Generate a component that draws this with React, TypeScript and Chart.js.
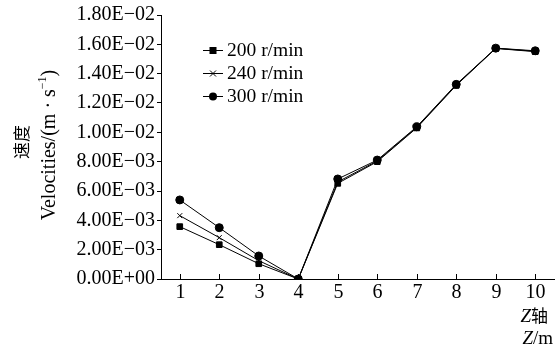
import React, { useEffect, useRef } from "react";
import { Chart, registerables } from "chart.js";

Chart.register(...registerables);

const categories = [1, 2, 3, 4, 5, 6, 7, 8, 9, 10];
const series200 = [0.00357, 0.00234, 0.00104, 0.0, 0.00652, 0.00800, 0.01030, 0.01320, 0.01572, 0.01550];
const series240 = [0.00432, 0.00282, 0.00125, 0.0, 0.00662, 0.00805, 0.01034, 0.01323, 0.01573, 0.01553];
const series300 = [0.00539, 0.00350, 0.00157, 0.0, 0.00682, 0.00811, 0.01038, 0.01327, 0.01574, 0.01556];
const seriesNames = ["200 r/min", "240 r/min", "300 r/min"];
const yTickLabels = [
  "0.00E+00", "2.00E\u221203", "4.00E\u221203", "6.00E\u221203", "8.00E\u221203",
  "1.00E\u221202", "1.20E\u221202", "1.40E\u221202", "1.60E\u221202", "1.80E\u221202",
];

const SERIF = "'Liberation Serif', 'DejaVu Serif', serif";
const CJK = "'Noto Sans CJK SC', sans-serif";

function drawMarker(ctx: CanvasRenderingContext2D, style: string, x: number, y: number) {
  ctx.save();
  ctx.fillStyle = "#000";
  ctx.strokeStyle = "#000";
  ctx.lineWidth = 1;
  if (style === "rect") {
    ctx.fillRect(x - 3.5, y - 3.5, 7, 7);
  } else if (style === "crossRot") {
    ctx.beginPath();
    ctx.moveTo(x - 3, y - 3);
    ctx.lineTo(x + 3, y + 3);
    ctx.moveTo(x + 3, y - 3);
    ctx.lineTo(x - 3, y + 3);
    ctx.stroke();
  } else {
    ctx.beginPath();
    ctx.arc(x, y, 4, 0, Math.PI * 2);
    ctx.fill();
  }
  ctx.restore();
}

const decorPlugin = {
  id: "decor",
  afterDraw(chart: any) {
    const ctx: CanvasRenderingContext2D = chart.ctx;
    const xs = chart.scales.x;
    const area = chart.chartArea;
    ctx.save();
    // inward x ticks and x tick labels
    ctx.strokeStyle = "#000";
    ctx.fillStyle = "#000";
    ctx.lineWidth = 1;
    ctx.beginPath();
    ctx.font = "20px " + SERIF;
    ctx.textAlign = "center";
    ctx.textBaseline = "middle";
    for (let i = 0; i < categories.length; i++) {
      const px = Math.round(xs.getPixelForValue(categories[i])) + 0.5;
      ctx.moveTo(px, area.bottom);
      ctx.lineTo(px, area.bottom - 5);
      ctx.fillText(String(categories[i]), px, area.bottom + 14);
    }
    ctx.stroke();

    // legend
    const styles = ["rect", "crossRot", "circle"];
    const rows = [50, 73, 96];
    ctx.font = "19.5px " + SERIF;
    ctx.textBaseline = "middle";
    ctx.textAlign = "left";
    for (let i = 0; i < 3; i++) {
      const y = rows[i];
      ctx.beginPath();
      ctx.moveTo(203, y + 0.5);
      ctx.lineTo(223, y + 0.5);
      ctx.stroke();
      drawMarker(ctx, styles[i], 213, y + 0.5);
      ctx.fillText(seriesNames[i], 227, y + 1);
    }

    // y title
    ctx.save();
    ctx.translate(22, 142);
    ctx.rotate(-Math.PI / 2);
    ctx.textAlign = "center";
    ctx.textBaseline = "middle";
    ctx.font = "17px " + CJK;
    ctx.fillText("速度", 0, 0);
    ctx.restore();

    ctx.save();
    ctx.translate(50, 145);
    ctx.rotate(-Math.PI / 2);
    ctx.textBaseline = "middle";
    ctx.textAlign = "left";
    const main = "Velocities/(m \u00b7 s";
    const sup = "\u22121";
    const close = ")";
    ctx.font = "20px " + SERIF;
    const w1 = ctx.measureText(main).width;
    const w3 = ctx.measureText(close).width;
    ctx.font = "12px " + SERIF;
    const w2 = ctx.measureText(sup).width;
    const total = w1 + w2 + w3;
    const x0 = -total / 2;
    ctx.font = "20px " + SERIF;
    ctx.fillText(main, x0, 0);
    ctx.font = "12px " + SERIF;
    ctx.fillText(sup, x0 + w1, -7);
    ctx.font = "20px " + SERIF;
    ctx.fillText(close, x0 + w1 + w2, 0);
    ctx.restore();

    // x title
    ctx.textBaseline = "middle";
    ctx.textAlign = "right";
    ctx.font = "17px " + CJK;
    ctx.fillText("轴", 548, 316);
    const wz = ctx.measureText("轴").width;
    ctx.font = "italic 19px " + SERIF;
    ctx.fillText("Z", 548 - wz, 317);

    ctx.font = "19px " + SERIF;
    ctx.fillText("/m", 553, 339);
    const wm = ctx.measureText("/m").width;
    ctx.font = "italic 19px " + SERIF;
    ctx.fillText("Z", 553 - wm, 339);
    ctx.restore();
  },
};

export default function App() {
  const ref = useRef<HTMLCanvasElement>(null);
  useEffect(() => {
    document.body.style.margin = "0";
    const mk = (label: string, values: number[], style: any, r: number) => ({
      label,
      data: values.map((v, i) => ({ x: categories[i], y: v })),
      borderColor: "#000",
      backgroundColor: "#000",
      borderWidth: 1,
      pointStyle: style,
      pointRadius: r,
      pointBorderWidth: 1,
      pointBorderColor: "#000",
      pointBackgroundColor: "#000",
      tension: 0,
    });
    const chart = new Chart(ref.current!, {
      type: "line",
      data: {
        datasets: [
          mk(seriesNames[0], series200, "rect", 4),
          mk(seriesNames[1], series240, "crossRot", 3.5),
          mk(seriesNames[2], series300, "circle", 4),
        ],
      },
      options: {
        responsive: false,
        animation: false,
        devicePixelRatio: 1,
        layout: { padding: { top: 15, right: 0, bottom: 0, left: 0 } },
        plugins: { legend: { display: false }, tooltip: { enabled: false } },
        scales: {
          x: {
            type: "linear",
            min: 0.525,
            max: 10.475,
            afterBuildTicks: (s: any) => { s.ticks = categories.map((v) => ({ value: v })); },
            grid: { display: false },
            border: { display: true, color: "#000", width: 1 },
            ticks: { display: false },
            afterFit: (s: any) => { s.height = 67; },
          },
          y: {
            min: 0,
            max: 0.018,
            grid: { display: true, drawOnChartArea: false, tickLength: 4, color: "#000" },
            border: { display: true, color: "#000", width: 1 },
            ticks: {
              stepSize: 0.002,
              color: "#000",
              padding: 2,
              font: { family: SERIF, size: 20 },
              callback: (_v: any, i: number) => yTickLabels[i],
            },
            afterFit: (s: any) => { s.width = 161; },
          },
        },
      },
      plugins: [decorPlugin],
    });
    return () => chart.destroy();
  }, []);
  return (
    <div style={{ width: 559, height: 346 }}>
      <canvas ref={ref} width={559} height={346} />
    </div>
  );
}
